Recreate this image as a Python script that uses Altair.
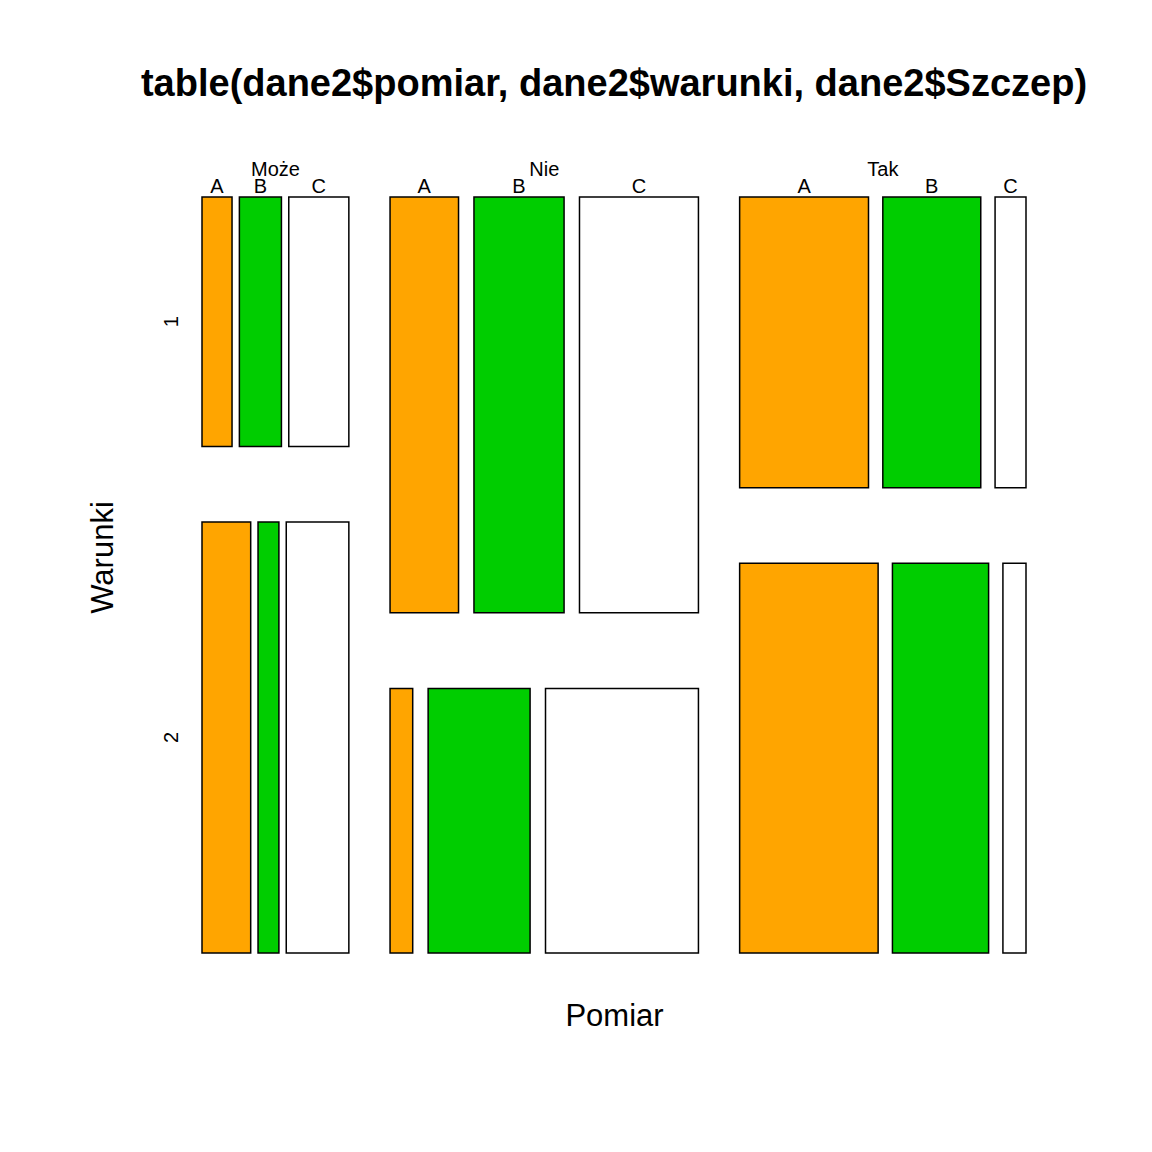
import altair as alt
import pandas as pd

# ---- data ----
pomiar = ["Może", "Nie", "Tak"]
warunki = ["1", "2"]
szczep = ["A", "B", "C"]
# counts per (pomiar, warunki) cell, order: Może-1, Może-2, Nie-1, Nie-2, Tak-1, Tak-2
count_A = [5, 14, 19, 4, 25, 36]
count_B = [7, 6, 25, 18, 19, 25]
count_C = [10, 18, 33, 27, 6, 6]
colors = ["#FFA500", "#00CD00", "#FFFFFF"]
title_text = "table(dane2$pomiar, dane2$warunki, dane2$Szczep)"

OFF = 0.10  # R mosaicplot spacing per level (10 %)
FONT = "Liberation Sans"


def split(lo, hi, values, off=OFF):
    tot = float(sum(values))
    white = off * (hi - lo) / max(1, len(values) - 1)
    out, pos = [], lo
    for v in values:
        end = pos + (1 - off) * (v / tot) * (hi - lo)
        out.append((pos, end))
        pos = end + white
    return out


cnt = {}
k = 0
for p in pomiar:
    for w in warunki:
        cnt[(p, w)] = [count_A[k], count_B[k], count_C[k]]
        k += 1

p_tot = [sum(sum(cnt[(p, w)]) for w in warunki) for p in pomiar]
p_rng = split(0.0, 1.0, p_tot)

rows, plab, slab, wlab = [], [], [], []
for pi, p in enumerate(pomiar):
    x0, x1 = p_rng[pi]
    plab.append({"label": p, "xc": (x0 + x1) / 2})
    w_rng = split(0.0, 1.0, [sum(cnt[(p, w)]) for w in warunki])
    for wi, w in enumerate(warunki):
        y0, y1 = w_rng[wi]
        if pi == 0:
            wlab.append({"label": w, "yc": (y0 + y1) / 2})
        s_rng = split(x0, x1, cnt[(p, w)])
        for si, s in enumerate(szczep):
            a, b = s_rng[si]
            rows.append({"pomiar": p, "warunki": w, "szczep": s,
                         "n": cnt[(p, w)][si], "x": a, "x2": b, "y": y0, "y2": y1})
            if wi == 0:
                slab.append({"label": s, "xc": (a + b) / 2})

df = pd.DataFrame(rows)
xs = alt.Scale(domain=[0, 1], nice=False, zero=False)
ys = alt.Scale(domain=[0, 1], nice=False, zero=False, reverse=True)

rects = alt.Chart(df).mark_rect(stroke="black", strokeWidth=1.5).encode(
    x=alt.X("x:Q", scale=xs, axis=alt.Axis(
        title="Pomiar", labels=False, ticks=False, domain=False, grid=False,
        titleFont=FONT, titleFontSize=31, titleFontWeight="normal", titleColor="black",
        titlePadding=72, titleBaseline="alphabetic")),
    x2="x2:Q",
    y=alt.Y("y:Q", scale=ys, axis=alt.Axis(
        title="Warunki", labels=False, ticks=False, domain=False, grid=False,
        titleFont=FONT, titleFontSize=31, titleFontWeight="normal", titleColor="black",
        titlePadding=90, titleBaseline="alphabetic", titleY=360, titleAlign="center")),
    y2="y2:Q",
    color=alt.Color("szczep:N", scale=alt.Scale(domain=szczep, range=colors), legend=None),
)

p_text = alt.Chart(pd.DataFrame(plab)).mark_text(
    font=FONT, fontSize=20, color="black", baseline="alphabetic", align="center"
).encode(x=alt.X("xc:Q", scale=xs), y=alt.value(-21), text="label:N")

s_text = alt.Chart(pd.DataFrame(slab)).mark_text(
    font=FONT, fontSize=20, color="black", baseline="alphabetic", align="center"
).encode(x=alt.X("xc:Q", scale=xs), y=alt.value(-4.5), text="label:N")

w_text = alt.Chart(pd.DataFrame(wlab)).mark_text(
    font=FONT, fontSize=20, color="black", baseline="alphabetic", align="center", angle=270
).encode(x=alt.value(-24), y=alt.Y("yc:Q", scale=ys), text="label:N")

t_text = alt.Chart(pd.DataFrame({"label": [title_text]})).mark_text(
    font=FONT, fontSize=38, fontWeight="bold", color="black", baseline="alphabetic", align="center"
).encode(x=alt.value(412), y=alt.value(-101), text="label:N")

chart = alt.layer(rects, p_text, s_text, w_text, t_text).properties(
    width=824, height=756,
    padding={"left": 202, "top": 197, "right": 126, "bottom": 199},
    autosize="none", background="white",
).configure_view(strokeWidth=0)

chart.save("out.html", embed_options={"renderer": "svg", "actions": False})
